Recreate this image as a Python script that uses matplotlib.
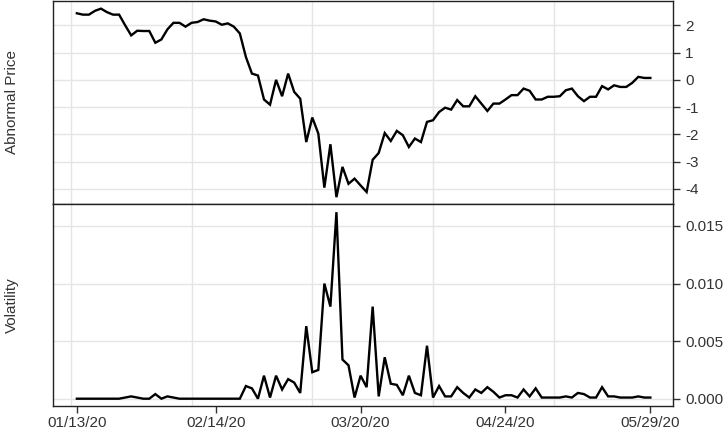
import numpy as np
import pandas as pd
import matplotlib
matplotlib.use("Agg")
import matplotlib.pyplot as plt

plt.rcParams['font.family'] = ['Liberation Sans', 'DejaVu Sans']
plt.rcParams['axes.unicode_minus'] = False

# trading days 01/13/20 .. 05/29/20 (NYSE holidays removed)
holidays = ['2020-01-20', '2020-02-17', '2020-04-10', '2020-05-25']
dates = pd.bdate_range('2020-01-13', '2020-05-29')
dates = dates[~dates.isin(pd.to_datetime(holidays))]

abnormal_price = [
    2.44, 2.39, 2.39, 2.53, 2.61, 2.48, 2.39, 2.39, 2.00, 1.63,
    1.80, 1.79, 1.79, 1.36, 1.48, 1.85, 2.09, 2.09, 1.95, 2.09,
    2.12, 2.22, 2.17, 2.14, 2.02, 2.07, 1.95, 1.70, 0.84, 0.23,
    0.16, -0.72, -0.91, 0.00, -0.60, 0.23, -0.44, -0.69, -2.28, -1.38,
    -1.97, -3.95, -2.36, -4.30, -3.19, -3.81, -3.62, -3.87, -4.11, -2.93,
    -2.68, -1.95, -2.24, -1.87, -2.03, -2.46, -2.15, -2.28, -1.54, -1.48,
    -1.18, -1.02, -1.09, -0.74, -0.97, -0.97, -0.60, -0.87, -1.14, -0.87,
    -0.87, -0.72, -0.56, -0.56, -0.32, -0.40, -0.72, -0.72, -0.62, -0.62,
    -0.60, -0.38, -0.32, -0.60, -0.78, -0.62, -0.62, -0.23, -0.35, -0.20,
    -0.26, -0.26, -0.11, 0.11, 0.07, 0.07]

volatility = [
    0, 0, 0, 0, 0, 0, 0, 0, 0.0001, 0.0002,
    0.0001, 0, 0, 0.0004, 0, 0.0002, 0.0001, 0, 0, 0,
    0, 0, 0, 0, 0, 0, 0, 0, 0.0011, 0.0009,
    0, 0.0020, 0.0001, 0.0020, 0.0008, 0.0017, 0.0014, 0.0005, 0.0063, 0.0023,
    0.0025, 0.0100, 0.0080, 0.0162, 0.0034, 0.0029, 0.0001, 0.0020, 0.0010, 0.0080,
    0.0002, 0.0036, 0.0013, 0.0012, 0.0003, 0.0020, 0.0005, 0.0003, 0.0046, 0.0001,
    0.0011, 0.0002, 0.0002, 0.0010, 0.0005, 0.0001, 0.0008, 0.0005, 0.0010, 0.0006,
    0.0001, 0.0003, 0.0003, 0.0001, 0.0008, 0.0002, 0.0009, 0.0001, 0.0001, 0.0001,
    0.0001, 0.0002, 0.0001, 0.0005, 0.0004, 0.0001, 0.0001, 0.0010, 0.0002, 0.0002,
    0.0001, 0.0001, 0.0001, 0.0002, 0.0001, 0.0001]

tick_dates = ['2020-01-13', '2020-02-14', '2020-03-20', '2020-04-24', '2020-05-29']
price_ticks = [2, 1, 0, -1, -2, -3, -4]
vol_ticks = [0.0, 0.005, 0.010, 0.015]
grid_idx = [-1, 19, 39, 59, 79]

x = np.arange(len(dates))
tick_idx = [dates.get_loc(pd.Timestamp(d)) for d in tick_dates]
tick_lab = [pd.Timestamp(d).strftime('%m/%d/%y') for d in tick_dates]

W, H = 725, 433
fig = plt.figure(figsize=(W / 100, H / 100), dpi=100)
left, right = 53.3 / W, 672.7 / W
ax1 = fig.add_axes([left, (H - 204) / H, right - left, 203 / H])
ax2 = fig.add_axes([left, (H - 406) / H, right - left, 202 / H])

txt = '#333333'
for ax in (ax1, ax2):
    ax.set_xlim(-3.9, 98.7)
    ax.yaxis.tick_right()
    ax.tick_params(axis='y', length=5, width=1, color='#333333', labelcolor=txt,
                   labelsize=11, pad=4)
    for g in grid_idx:
        ax.axvline(g, color='#e5e5e5', lw=1, zorder=0)
    for s in ax.spines.values():
        s.set_color('#222222')
        s.set_linewidth(1)

ax1.plot(x, abnormal_price, color='black', lw=1.7, solid_joinstyle='miter')
ax1.set_ylim(-4.55, 2.89)
ax1.set_yticks(price_ticks)
ax1.set_yticklabels([str(t) for t in price_ticks])
for t in price_ticks:
    ax1.axhline(t, color='#e5e5e5', lw=1, zorder=0)
ax1.set_xticks([])

ax2.plot(x, volatility, color='black', lw=1.7, solid_joinstyle='miter')
ax2.set_ylim(-0.000634, 0.01691)
ax2.set_yticks(vol_ticks)
ax2.set_yticklabels(['%.3f' % t for t in vol_ticks])
for t in vol_ticks:
    ax2.axhline(t, color='#e5e5e5', lw=1, zorder=0)
ax2.set_xticks(tick_idx)
ax2.set_xticklabels(tick_lab)
ax2.tick_params(axis='x', length=5, width=1, color='#333333', labelcolor=txt,
                labelsize=11, pad=2)

fig.text(12 / W, 1 - 102.5 / H, 'Abnormal Price', rotation=90, ha='center',
         va='center', fontsize=11, color=txt)
fig.text(12 / W, 1 - 305 / H, 'Volatility', rotation=90, ha='center',
         va='center', fontsize=11, color=txt)

fig.savefig('out.png', dpi=100)
